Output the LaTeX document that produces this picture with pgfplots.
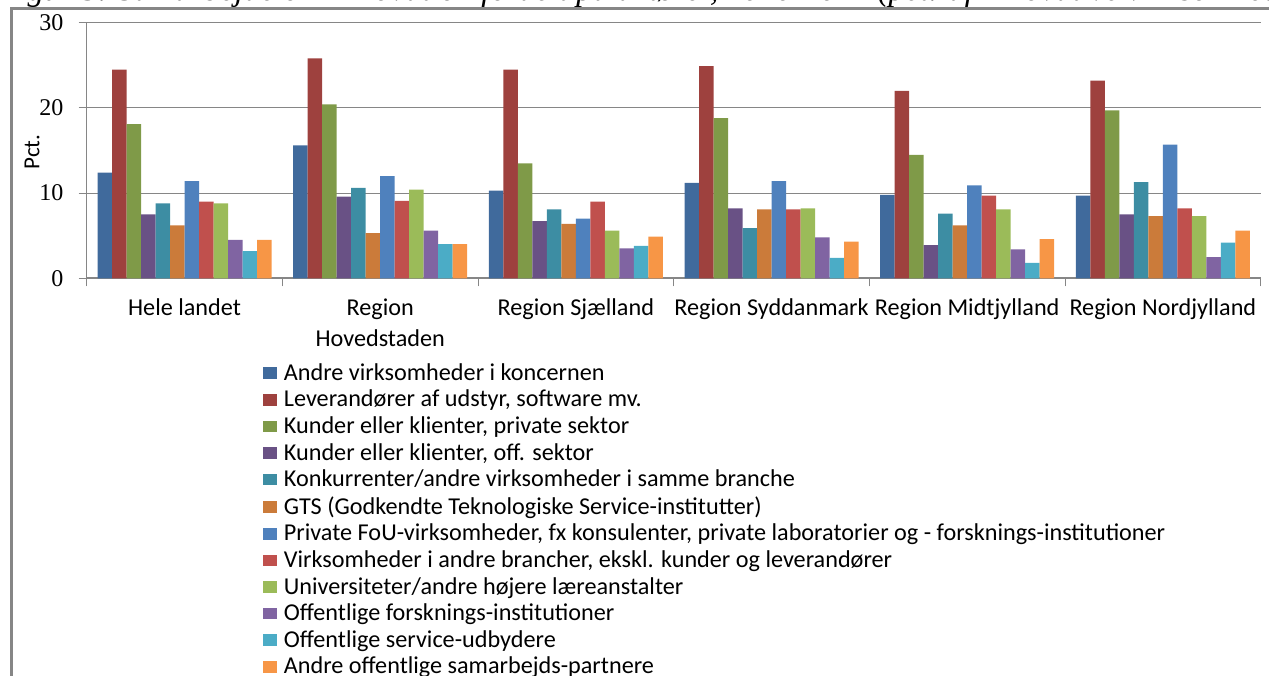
\documentclass[border=0pt]{standalone}
\usepackage{fontspec}
\setmainfont{Carlito}
\newfontfamily\serifnum{Liberation Serif}
\usepackage{pgfplots}
\pgfplotsset{compat=1.18}
\definecolor{c1}{HTML}{406A9C}
\definecolor{c2}{HTML}{9E413E}
\definecolor{c3}{HTML}{7F9A48}
\definecolor{c4}{HTML}{695185}
\definecolor{c5}{HTML}{3D8DA3}
\definecolor{c6}{HTML}{CB7B3A}
\definecolor{c7}{HTML}{4F81BD}
\definecolor{c8}{HTML}{C0504D}
\definecolor{c9}{HTML}{9BBB59}
\definecolor{c10}{HTML}{8064A2}
\definecolor{c11}{HTML}{4BACC6}
\definecolor{c12}{HTML}{F79646}
\definecolor{axgray}{HTML}{868686}
\pgfplotstableread{
x s1 s2 s3 s4 s5 s6 s7 s8 s9 s10 s11 s12
0 12.4 24.5 18.1 7.5 8.8 6.2 11.4 9.0 8.8 4.5 3.2 4.5
1 15.6 25.8 20.4 9.6 10.6 5.3 12.0 9.1 10.4 5.6 4.0 4.0
2 10.3 24.5 13.5 6.7 8.1 6.4 7.0 9.0 5.6 3.5 3.8 4.9
3 11.2 24.9 18.8 8.2 5.9 8.1 11.4 8.1 8.2 4.8 2.4 4.3
4 9.8 22.0 14.5 3.9 7.6 6.2 10.9 9.7 8.1 3.4 1.8 4.6
5 9.7 23.2 19.7 7.5 11.3 7.3 15.7 8.2 7.3 2.5 4.2 5.6
}\datatable
\begin{document}
\begin{tikzpicture}
\useasboundingbox (0,0) rectangle (634.5pt,337.5pt);
\begin{scope}
\clip (0,0) rectangle (634.5pt,337.5pt);
\node[anchor=base west, inner sep=0pt, font=\serifnum\itshape\fontsize{16.5}{18}\selectfont] at (-1pt,337pt) {Figur 3. Samarbejde om innovation fordelt på aktører, 2010-2012 (pct. af innovative virksomheder)};
\draw[axgray, line width=1.5pt] (5.5pt,-2pt) -- (5.5pt,333pt) -- (640pt,333pt);
\end{scope}
\begin{axis}[
  at={(43.35pt,198.35pt)}, anchor=south west,
  scale only axis, width=587pt, height=127.8pt,
  xmin=-0.5, xmax=5.5, ymin=0, ymax=30,
  ytick={0,10,20,30},
  xtick={0,1,2,3,4,5},
  xticklabels={Hele landet, Region\\Hovedstaden, Region Sjælland, Region Syddanmark, Region Midtjylland, Region Nordjylland},
  minor xtick={-0.5,0.5,1.5,2.5,3.5,4.5,5.5},
  major x tick style={draw=none},
  axis lines*=left,
  axis line style={axgray, line width=0.5pt},
  x axis line style={line width=1pt},
  tick align=outside,
  tick style={axgray, line width=0.5pt},
  major tick length=4pt, minor tick length=4pt,
  ymajorgrids, grid style={axgray, line width=0.5pt},
  yticklabel style={font=\serifnum\fontsize{12}{12}\selectfont, inner sep=0pt, xshift=-7.5pt},
  /pgf/number format/assume math mode=true,
  xticklabel style={font=\fontsize{12.1}{15.4}\selectfont, align=center, anchor=north, inner sep=0pt, yshift=-6pt},
  ylabel={Pct.},
  ylabel style={at={(axis description cs:-0.0466,0.494)}, anchor=center, font=\fontsize{11.5}{12}\selectfont},
  ybar=0pt, bar width=0.0741,
  legend style={at={(rel axis cs:0.150,-0.332)}, anchor=north west, draw=none, fill=none,
    font=\fontsize{12.1}{13}\selectfont, row sep=3.4pt, inner sep=0pt, nodes={inner sep=0pt}},
  legend cell align=left,
  sq/.style={draw=none, fill=#1, legend image code/.code={\fill[#1] (0pt,-2.8pt) rectangle (7pt,3pt); \path (10.35pt,0pt);}},
]
\addplot[sq=c1] table[x=x,y=s1]{\datatable}; \addlegendentry{Andre virksomheder i koncernen}
\addplot[sq=c2] table[x=x,y=s2]{\datatable}; \addlegendentry{Leverandører af udstyr, software mv.}
\addplot[sq=c3] table[x=x,y=s3]{\datatable}; \addlegendentry{Kunder eller klienter, private sektor}
\addplot[sq=c4] table[x=x,y=s4]{\datatable}; \addlegendentry{Kunder eller klienter,  off. sektor}
\addplot[sq=c5] table[x=x,y=s5]{\datatable}; \addlegendentry{Konkurrenter/andre virksomheder i samme branche}
\addplot[sq=c6] table[x=x,y=s6]{\datatable}; \addlegendentry{GTS (Godkendte Teknologiske Service-institutter)}
\addplot[sq=c7] table[x=x,y=s7]{\datatable}; \addlegendentry{Private FoU-virksomheder, fx konsulenter, private laboratorier og - forsknings-institutioner}
\addplot[sq=c8] table[x=x,y=s8]{\datatable}; \addlegendentry{Virksomheder i andre brancher, ekskl. kunder og leverandører}
\addplot[sq=c9] table[x=x,y=s9]{\datatable}; \addlegendentry{Universiteter/andre højere læreanstalter}
\addplot[sq=c10] table[x=x,y=s10]{\datatable}; \addlegendentry{Offentlige forsknings-institutioner}
\addplot[sq=c11] table[x=x,y=s11]{\datatable}; \addlegendentry{Offentlige service-udbydere}
\addplot[sq=c12] table[x=x,y=s12]{\datatable}; \addlegendentry{Andre offentlige samarbejds-partnere}
\end{axis}
\end{tikzpicture}
\end{document}
